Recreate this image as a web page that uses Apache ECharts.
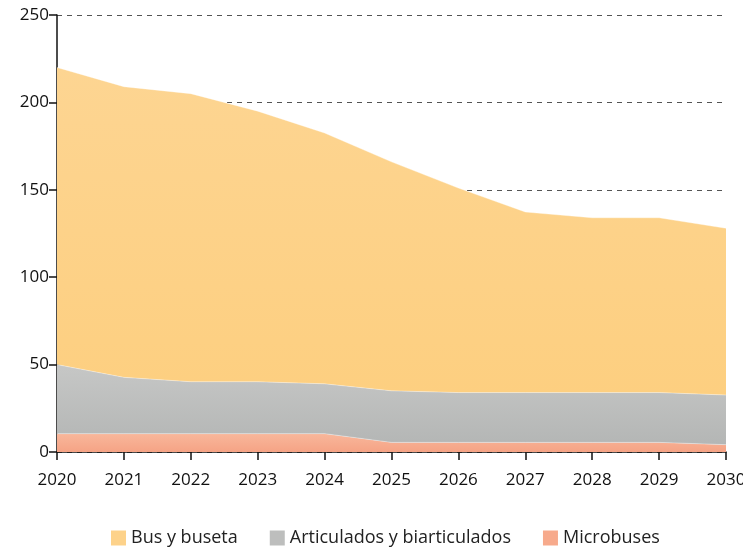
<!DOCTYPE html>
<html lang="es">
<head>
    <meta charset="UTF-8">
    <title>Flota por tipología</title>
    <style>
        html, body { margin: 0; padding: 0; background: #fff; }
        #main { width: 743px; height: 548px; }
    </style>
</head>
<body>
    <div id="main"></div>
</body>
</html>
<script src="https://cdn.jsdelivr.net/npm/echarts@6/dist/echarts.min.js"></script>
<script>
    // datos
    var years = ['2020', '2021', '2022', '2023', '2024', '2025', '2026', '2027', '2028', '2029', '2030'];
    var microbuses = [10.5, 10.5, 10.5, 10.5, 10.5, 5.5, 5.5, 5.5, 5.5, 5.5, 4.2];
    var articulados = [39.5, 32.2, 29.7, 29.7, 28.5, 29.5, 28.5, 28.5, 28.5, 28.5, 28.4];
    var busBuseta = [170, 166.3, 164.8, 154.8, 143.5, 131, 117, 103.3, 100, 100, 95.4];

    var fontFam = '"Open Sans", "Noto Sans", sans-serif';
    var chart = echarts.init(document.getElementById('main'));

    function grad(top, bottom) {
        return new echarts.graphic.LinearGradient(0, 0, 0, 1, [
            { offset: 0, color: top },
            { offset: 1, color: bottom }
        ]);
    }

    function areaSeries(name, data, fill, legendColor) {
        return {
            name: name,
            type: 'line',
            stack: 'total',
            data: data,
            symbol: 'none',
            smooth: false,
            color: legendColor,
            lineStyle: { width: 1, color: 'rgba(255,255,255,0.35)' },
            areaStyle: { color: fill, opacity: 1 },
            emphasis: { disabled: true }
        };
    }

    var option = {
        backgroundColor: '#fff',
        animation: false,
        grid: { left: 57, right: 17, top: 15, bottom: 96, outerBoundsMode: 'none', containLabel: false },
        legend: {
            top: 524,
            left: 106,
            icon: 'rect',
            itemWidth: 15,
            itemHeight: 15,
            itemGap: 32,
            textStyle: { fontFamily: fontFam, fontSize: 18, color: '#222' },
            data: ['Bus y buseta', 'Articulados y biarticulados', 'Microbuses']
        },
        xAxis: {
            type: 'category',
            data: years,
            boundaryGap: false,
            axisLine: { lineStyle: { color: '#111', width: 1.5 } },
            axisTick: { alignWithLabel: true, length: 8, lineStyle: { color: '#111', width: 1.5 } },
            axisLabel: { fontFamily: fontFam, fontSize: 17, color: '#111', margin: 20 }
        },
        yAxis: {
            type: 'value',
            min: 0,
            max: 250,
            interval: 50,
            axisLine: { show: true, lineStyle: { color: '#111', width: 1.5 } },
            axisTick: { show: true, length: 8, lineStyle: { color: '#111', width: 1.5 } },
            axisLabel: { fontFamily: fontFam, fontSize: 17, color: '#111', margin: 8 },
            splitLine: { lineStyle: { color: '#555', type: [5, 5], width: 1 } }
        },
        series: [
            areaSeries('Microbuses', microbuses, grad('#F8B79B', '#F5A385'), '#F7AA8C'),
            areaSeries('Articulados y biarticulados', articulados, grad('#C6C7C6', '#B4B6B5'), '#BDBEBD'),
            areaSeries('Bus y buseta', busBuseta, grad('#FDD592', '#FDCF80'), '#FDD28A')
        ]
    };

    chart.setOption(option);
</script>
